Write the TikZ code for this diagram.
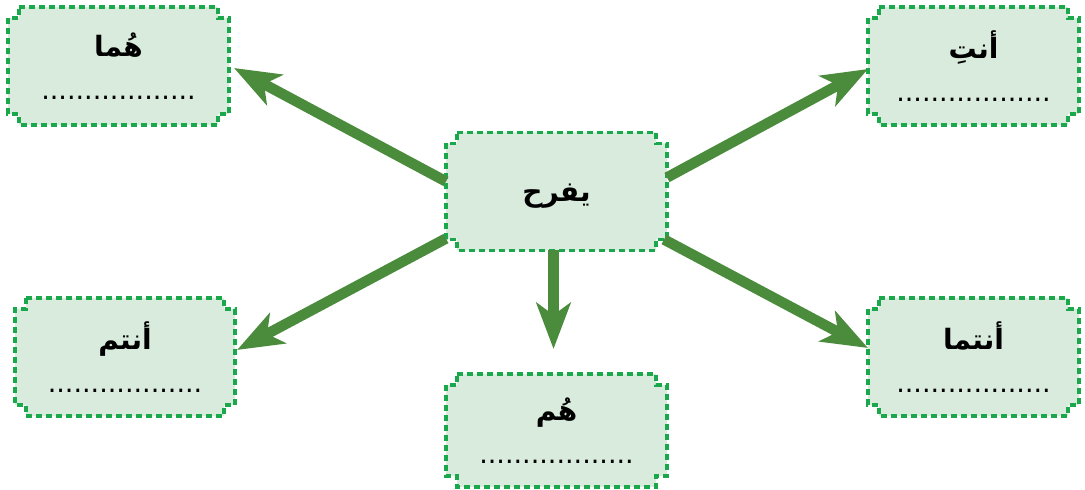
\documentclass[tikz,border=0pt]{standalone}
\usepackage{fontspec}
\newfontfamily\arabicfont[Script=Arabic]{DejaVu Sans}
\TeXXeTstate=1
\usetikzlibrary{arrows.meta,calc,backgrounds}
\definecolor{randgruen}{RGB}{27,168,76}
\definecolor{fuellgruen}{RGB}{216,235,220}
\definecolor{pfeilgruen}{RGB}{74,140,60}
\def\kerbe{11}
\def\wort#1{%
	{\bfseries\beginR #1\endR}\\[4.5pt]{\fontsize{13.5}{16}\selectfont ..................}%
}
\def\rahmen#1{
	\filldraw[rahmen]
		($(#1.north west)+(\kerbe,0)$) -- ($(#1.north east)+(-\kerbe,0)$)
		-- ++(0,\kerbe) -- ++(\kerbe,0)
		-- ($(#1.south east)+(0,-\kerbe)$)
		-- ++(-\kerbe,0) -- ++(0,\kerbe)
		-- ($(#1.south west)+(\kerbe,0)$)
		-- ++(0,-\kerbe) -- ++(-\kerbe,0)
		-- ($(#1.north west)+(0,\kerbe)$)
		-- ++(\kerbe,0) -- cycle;
}
\tikzset{
	kasten/.style={minimum width=#1, minimum height=59pt, inner sep=0pt,
		outer sep=0pt, align=center,
		font=\arabicfont\fontsize{14}{17}\selectfont},
	rahmen/.style={draw=randgruen, fill=fuellgruen, line width=1.9pt,
		dash pattern=on 3pt off 2pt},
	pfeil/.style={draw=pfeilgruen, line width=5.25pt,
		-{Stealth[length=23pt, width=17pt, inset=6pt]}}
}

\begin{document}
\begin{tikzpicture}[x=0.5pt,y=-0.5pt]
	\useasboundingbox (0,0) rectangle (1085,490);
	% Kaesten
	\node[kasten=110.5pt] (yafrah) at (556.5,191.5) {\raisebox{-2.5pt}[\height][\depth]{\bfseries\beginR يفرح\endR}};
	\node[kasten=110.5pt] (huma) at (118.5,66) {\wort{هُما}};
	\node[kasten=105.5pt] (anti) at (973.5,66) {\wort{أنتِ}};
	\node[kasten=110pt] (antum) at (125,357) {\wort{أنتم}};
	\node[kasten=105.5pt] (antuma) at (973.5,357) {\wort{أنتما}};
	\node[kasten=110.5pt, minimum height=56.5pt] (hum) at (556.5,430.5) {\wort{هُم}};
	\begin{scope}[on background layer]
		\foreach \k in {yafrah,huma,anti,antum,antuma,hum}{
			\rahmen{\k}
		}
	\end{scope}
	% Pfeile
	\draw[pfeil] ($(yafrah.west)+(0,-10)$) -- ($(huma.east)+(5,2)$);
	\draw[pfeil] ($(yafrah.east)+(0,-14)$) -- ($(anti.west)+(0,3)$);
	\draw[pfeil] ($(yafrah.south west)+(0,-12)$) -- ($(antum.east)+(2,-7)$);
	\draw[pfeil] ($(yafrah.south east)+(-3,-11)$) -- ($(antuma.west)+(0,-9)$);
	\draw[pfeil] ($(yafrah.south)+(-3,0)$) -- ($(hum.north)+(-3,-25)$);
\end{tikzpicture}
\end{document}
